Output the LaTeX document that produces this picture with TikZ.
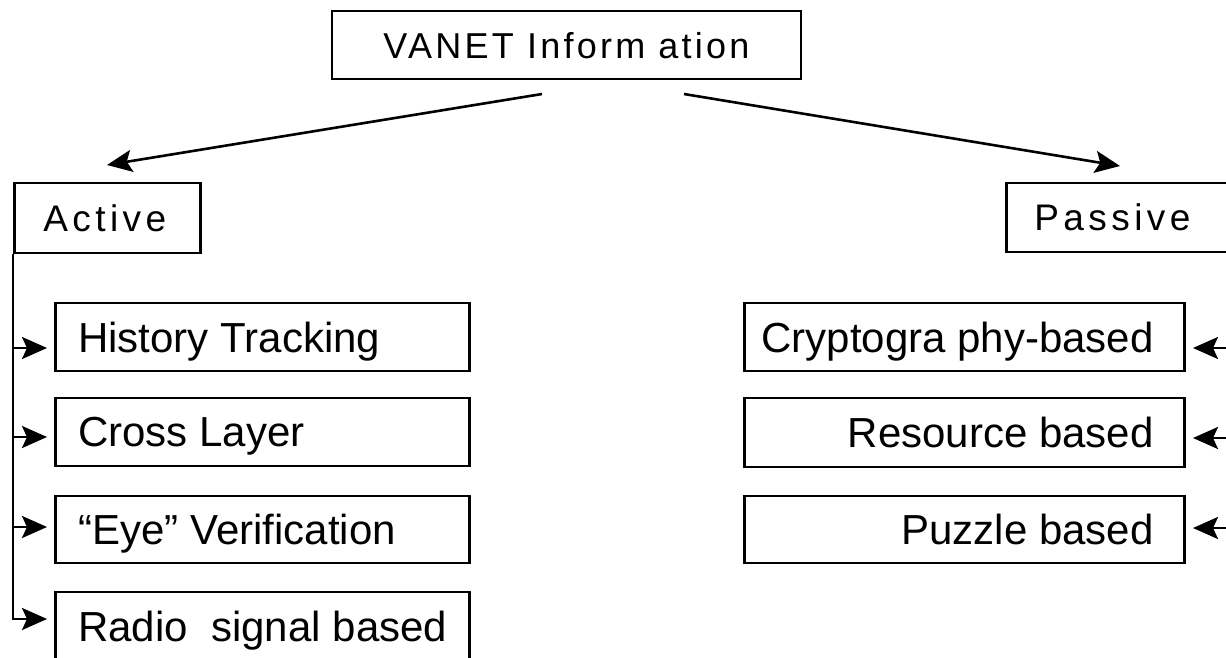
\documentclass[tikz,border=0pt]{standalone}
\usepackage{fontspec}
\setmainfont{Liberation Sans}
\usetikzlibrary{arrows.meta}
\newcommand\ltxt[2]{\makebox[#1][l]{#2}}
\newcommand\rtxt[2]{\makebox[#1][r]{#2}}
\tikzset{bigtip/.tip={Stealth[length=25pt,width=22pt,inset=5pt]}}
\begin{document}
\begin{tikzpicture}[x=1pt,y=-1pt,
  box/.style={draw, line width=2.6pt, text depth=0pt, inner ysep=0pt,
              font=\fontsize{42}{48}\selectfont},
  hdr/.style={box, font=\fontsize{37}{42}\selectfont\addfontfeature{LetterSpace=12}},
  toph/.style={box, font=\fontsize{36}{42}\selectfont\addfontfeature{LetterSpace=9}},
  conn/.style={line width=2.6pt},
  arr/.style={conn, -bigtip},
  sarr/.style={arr, shorten >=7pt}]
\useasboundingbox (0,0) rectangle (1226,657);
\clip (0,0) rectangle (1226,657);

% header boxes
\node[toph, minimum width=469pt, minimum height=68pt] (top) at (566.5,45) {VANET Inform ation};
\node[hdr, anchor=west, inner xsep=29pt, minimum height=70pt] (active) at (13,218) {\ltxt{128pt}{Active}};
\node[hdr, anchor=west, inner xsep=28pt, minimum height=69pt] (passive) at (1005,217.5) {\ltxt{206pt}{Passive}};

% active children
\node[box, anchor=west, inner xsep=23pt, minimum height=68pt] (hist) at (54,337) {\ltxt{368pt}{History Tracking}};
\node[box, anchor=west, inner xsep=23pt, minimum height=68pt] (cross) at (54,432) {\ltxt{368pt}{Cross Layer}};
\node[box, anchor=west, inner xsep=23pt, minimum height=67pt] (eye) at (54,529.5) {\ltxt{368pt}{“Eye” Verification}};
\node[box, anchor=west, inner xsep=23pt, minimum height=68pt] (radio) at (54,626) {\ltxt{368pt}{Radio\ \ signal based}};

% passive children
\node[box, anchor=east, inner xsep=31pt, minimum height=68pt] (crypto) at (1186,337) {\rtxt{378pt}{Cryptogra phy-based}};
\node[box, anchor=east, inner xsep=31pt, minimum height=69pt] (resource) at (1186,432.5) {\rtxt{378pt}{Resource based}};
\node[box, anchor=east, inner xsep=31pt, minimum height=67pt] (puzzle) at (1186,529.5) {\rtxt{378pt}{Puzzle based}};

% top arrows
\coordinate (s1) at (542,94);
\coordinate (e1) at (107,165);
\coordinate (s2) at (684,94);
\coordinate (e2) at (1120,166);
\draw[arr] (s1) -- (e1);
\draw[arr] (s2) -- (e2);

% active bus
\coordinate (a1) at (13,348);
\coordinate (a2) at (13,437);
\coordinate (a3) at (13,527);
\coordinate (a4) at (13,619);
\draw[sarr] (active.south west) -- (a4) -- (a4 -| radio.west);
\draw[sarr] (a1) -- (a1 -| hist.west);
\draw[sarr] (a2) -- (a2 -| cross.west);
\draw[sarr] (a3) -- (a3 -| eye.west);

% passive arrows (source beyond the right edge)
\coordinate (b1) at (1245,348);
\coordinate (b2) at (1245,438);
\coordinate (b3) at (1245,528);
\draw[sarr] (b1) -- (b1 -| crypto.east);
\draw[sarr] (b2) -- (b2 -| resource.east);
\draw[sarr] (b3) -- (b3 -| puzzle.east);
\end{tikzpicture}
\end{document}
